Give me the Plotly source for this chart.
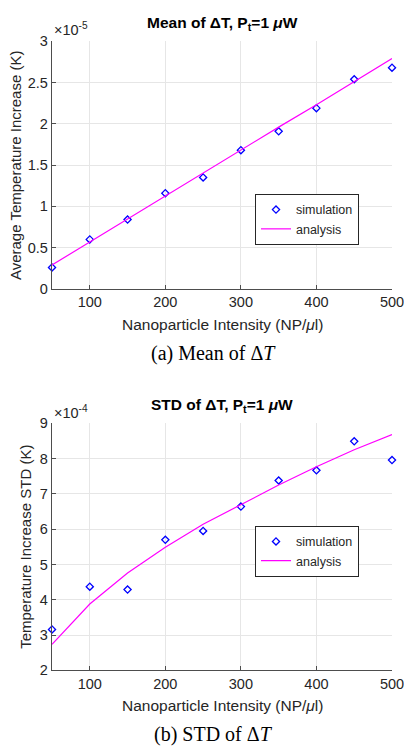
import plotly.graph_objects as go

# Data
intensity = [50, 100, 150, 200, 250, 300, 350, 400, 450, 500]
# Mean of delta T (units of 1e-5 K)
mean_sim = [0.26, 0.60, 0.84, 1.16, 1.35, 1.68, 1.91, 2.19, 2.54, 2.68]
mean_ana = [0.29, 0.57, 0.85, 1.12, 1.40, 1.68, 1.96, 2.23, 2.51, 2.79]
# STD of delta T (units of 1e-4 K)
std_sim = [3.16, 4.37, 4.29, 5.70, 5.95, 6.64, 7.38, 7.67, 8.49, 7.96]
std_ana = [2.74, 3.88, 4.76, 5.49, 6.14, 6.70, 7.25, 7.77, 8.25, 8.68]

x_ticks = [100, 200, 300, 400, 500]
mean_ticks = [0, 0.5, 1, 1.5, 2, 2.5, 3]
mean_ticktext = ["0", "0.5", "1", "1.5", "2", "2.5", "3"]
std_ticks = [2, 3, 4, 5, 6, 7, 8, 9]

W, H = 404, 756
L, R = 52, 392
TOP1, BOT1 = 34, 287
TOP2, BOT2 = 424.3, 676.7

def py(p):
    return (H - p) / H

SANS = "Liberation Sans, Arial, sans-serif"
SERIF = "Liberation Serif, Times New Roman, serif"
TXT = "#262626"
GRID = "#e6e6e6"
BLUE = "#0000ff"
MAG = "#ff00ff"

fig = go.Figure()

mk = dict(symbol="diamond-open", size=5.5, color=BLUE, line=dict(width=1.3, color=BLUE))
fig.add_trace(go.Scatter(x=intensity, y=mean_sim, mode="markers", name="simulation",
                         marker=mk, xaxis="x", yaxis="y", legend="legend", cliponaxis=False))
fig.add_trace(go.Scatter(x=intensity, y=mean_ana, mode="lines", name="analysis",
                         line=dict(color=MAG, width=1.2), xaxis="x", yaxis="y", legend="legend"))
fig.add_trace(go.Scatter(x=intensity, y=std_sim, mode="markers", name="simulation",
                         marker=mk, xaxis="x2", yaxis="y2", legend="legend2", cliponaxis=False))
fig.add_trace(go.Scatter(x=intensity, y=std_ana, mode="lines", name="analysis",
                         line=dict(color=MAG, width=1.2), xaxis="x2", yaxis="y2", legend="legend2"))

axis_common = dict(showgrid=True, gridcolor=GRID, gridwidth=1, zeroline=False,
                   showline=True, linecolor="#4d4d4d", linewidth=1.3,
                   ticks="inside", ticklen=4, tickcolor="#4d4d4d",
                   ticklabeloverflow="allow",
                   tickfont=dict(family=SANS, size=14.5, color=TXT))

leg_common = dict(xanchor="left", yanchor="top", bgcolor="white", bordercolor="#262626",
                  borderwidth=1, font=dict(family=SANS, size=12.5, color=TXT),
                  tracegroupgap=0, itemwidth=30)

fig.update_layout(
    width=W, height=H,
    margin=dict(l=L, r=W - R, t=0, b=0),
    paper_bgcolor="white", plot_bgcolor="white",
    font=dict(family=SANS, color=TXT),
    xaxis=dict(domain=[0, 1], range=[50, 500], tickvals=x_ticks, anchor="y", **axis_common),
    yaxis=dict(domain=[py(BOT1), py(TOP1)], range=[0, 3], tickvals=mean_ticks, ticktext=mean_ticktext,
               anchor="x", **axis_common),
    xaxis2=dict(domain=[0, 1], range=[50, 500], tickvals=x_ticks, anchor="y2", **axis_common),
    yaxis2=dict(domain=[py(BOT2), py(TOP2)], range=[2, 9], tickvals=std_ticks, anchor="x2", **axis_common),
    legend=dict(x=(255 - L) / (R - L), y=py(190), **leg_common),
    legend2=dict(x=(255 - L) / (R - L), y=py(529), **leg_common),
    showlegend=True,
)

def ann(text, x, y, size, family=SANS, angle=0, xanchor="center", yanchor="middle", color=TXT):
    fig.add_annotation(text=text, x=x, y=y, xref="paper", yref="paper", showarrow=False,
                       font=dict(family=family, size=size, color=color), textangle=angle,
                       xanchor=xanchor, yanchor=yanchor)

def pxx(p):
    return (p - L) / (R - L)

# Titles
ann("<b>Mean of ΔT, P<sub>t</sub>=1 <i>μ</i>W</b>", pxx(222), py(16), 15.5, color="black")
ann("<b>STD of ΔT, P<sub>t</sub>=1 <i>μ</i>W</b>", pxx(222), py(406), 15.5, color="black")
# Exponent labels
ann("×10<sup>-5</sup>", pxx(52), py(21), 14.5, xanchor="left")
ann("×10<sup>-4</sup>", pxx(52), py(413), 14.5, xanchor="left")
# Axis titles
ann("Average Temperature Increase (K)", pxx(15), py((TOP1 + BOT1) / 2), 15, angle=-90)
ann("Temperature Increase STD (K)", pxx(26), py((TOP2 + BOT2) / 2), 15, angle=-90)
ann("Nanoparticle Intensity (NP/<i>μ</i>l)", pxx(222), py(323), 15.5)
ann("Nanoparticle Intensity (NP/<i>μ</i>l)", pxx(222), py(713), 15.5)
# Captions
ann("(a) Mean of Δ<i>T</i>", pxx(213), py(353), 20, family=SERIF, color="black")
ann("(b) STD of Δ<i>T</i>", pxx(213), py(742), 20, family=SERIF, color="black")

fig.write_html("out.html", config={"displayModeBar": False},
               post_script="document.body.style.margin='0';document.body.style.overflow='hidden';")
